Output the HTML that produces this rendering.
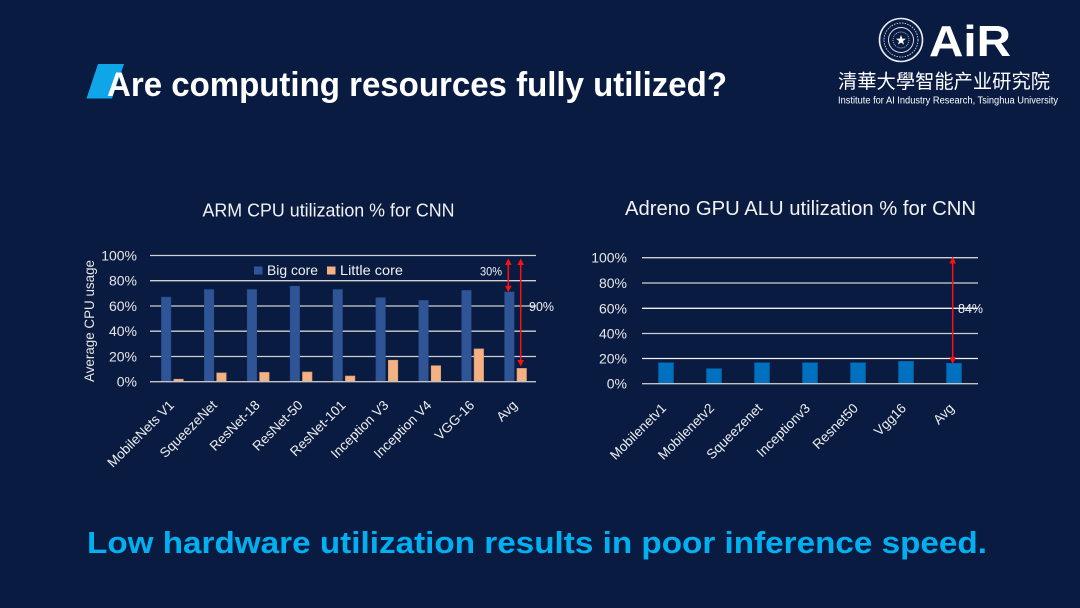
<!DOCTYPE html>
<html><head><meta charset="utf-8"><style>
html,body{margin:0;padding:0;background:#0a1b42;}
svg{display:block;}
text{font-family:"Liberation Sans","Noto Sans CJK SC",sans-serif;}
</style></head><body>
<svg width="1080" height="608" viewBox="0 0 1080 608" xmlns="http://www.w3.org/2000/svg">
<rect width="1080" height="608" fill="#0a1b42"/>
<!-- title -->
<polygon points="98,64 124,64 112,98.5 86.5,98.5" fill="#0ea5e9"/>
<text x="107" y="96" font-size="34" font-weight="bold" fill="#ffffff" textLength="620" lengthAdjust="spacingAndGlyphs">Are computing resources fully utilized?</text>

<!-- logo -->
<g fill="none" stroke="#e8ecf4">
<circle cx="901" cy="40" r="21.5" stroke-width="1.6"/>
<circle cx="901" cy="40" r="17" stroke-width="0.8" stroke-dasharray="1.5 1.2"/>
<circle cx="901" cy="40" r="12.5" stroke-width="0.9"/>
<circle cx="901" cy="40" r="8" stroke-width="0.7" stroke-dasharray="1 1"/>
</g>
<polygon points="901,35 902.3,38.6 906,38.7 903,41 904,44.6 901,42.5 898,44.6 899,41 896,38.7 899.7,38.6" fill="#ffffff"/>
<text x="929" y="56" font-size="44" font-weight="bold" fill="#ffffff" textLength="82" lengthAdjust="spacingAndGlyphs">AiR</text>
<text x="838" y="88" font-size="19.5" fill="#ffffff" font-family="Noto Sans CJK SC, sans-serif" textLength="212" lengthAdjust="spacingAndGlyphs">清華大學智能产业研究院</text>
<text x="838" y="103.5" font-size="10" fill="#ffffff" font-family="Liberation Serif, serif" textLength="220" lengthAdjust="spacingAndGlyphs">Institute for AI Industry Research, Tsinghua University</text>

<!-- LEFT CHART -->
<text x="202.5" y="216.5" font-size="18" fill="#f2f2f2" textLength="252" lengthAdjust="spacingAndGlyphs">ARM CPU utilization % for CNN</text>
<g stroke="#d0d0d0" stroke-width="1.3">
<line x1="150" y1="255.5" x2="536" y2="255.5"/>
<line x1="150" y1="280.7" x2="536" y2="280.7"/>
<line x1="150" y1="306" x2="536" y2="306"/>
<line x1="150" y1="331.2" x2="536" y2="331.2"/>
<line x1="150" y1="356.5" x2="536" y2="356.5"/>
</g>
<g font-size="14" fill="#e6e6e6" text-anchor="end">
<text x="137" y="260.5">100%</text>
<text x="137" y="285.7">80%</text>
<text x="137" y="311">60%</text>
<text x="137" y="336.2">40%</text>
<text x="137" y="361.5">20%</text>
<text x="137" y="386.7">0%</text>
</g>
<text transform="translate(94,321) rotate(-90)" font-size="14" fill="#e6e6e6" text-anchor="middle" textLength="122" lengthAdjust="spacingAndGlyphs">Average CPU usage</text>
<!-- big core bars -->
<g fill="#2f5597" stroke="#284a86" stroke-width="0.6">
<rect x="161.4" y="297.1" width="9.5" height="84.6"/>
<rect x="204.3" y="289.5" width="9.5" height="92.2"/>
<rect x="247.2" y="289.5" width="9.5" height="92.2"/>
<rect x="290.1" y="286.2" width="9.5" height="95.5"/>
<rect x="333.0" y="289.5" width="9.5" height="92.2"/>
<rect x="375.9" y="297.7" width="9.5" height="84.0"/>
<rect x="418.8" y="300.4" width="9.5" height="81.3"/>
<rect x="461.7" y="290.4" width="9.5" height="91.3"/>
<rect x="504.6" y="292.0" width="9.5" height="89.7"/>
</g>
<!-- little core bars -->
<g fill="#f4b183" stroke="#d89a6e" stroke-width="0.6">
<rect x="173.8" y="379.2" width="9.5" height="2.5"/>
<rect x="216.7" y="372.9" width="9.5" height="8.8"/>
<rect x="259.6" y="372.4" width="9.5" height="9.3"/>
<rect x="302.5" y="372.0" width="9.5" height="9.7"/>
<rect x="345.4" y="376.0" width="9.5" height="5.7"/>
<rect x="388.3" y="360.2" width="9.5" height="21.5"/>
<rect x="431.2" y="365.7" width="9.5" height="16.0"/>
<rect x="474.1" y="348.9" width="9.5" height="32.8"/>
<rect x="517.0" y="368.4" width="9.5" height="13.3"/>
</g>
<line x1="150" y1="381.7" x2="536" y2="381.7" stroke="#c4c4c4" stroke-width="1.4"/>
<!-- legend -->
<rect x="254" y="266.5" width="8.5" height="8" fill="#2f5597"/>
<text x="267" y="275" font-size="14" fill="#f2f2f2" textLength="51" lengthAdjust="spacingAndGlyphs">Big core</text>
<rect x="327" y="266.5" width="8.5" height="8" fill="#f4b183"/>
<text x="340" y="275" font-size="14" fill="#f2f2f2" textLength="63" lengthAdjust="spacingAndGlyphs">Little core</text>
<!-- arrows -->
<g stroke="#ff1010" stroke-width="1.5">
<line x1="508.3" y1="264" x2="508.3" y2="287"/>
<line x1="520.7" y1="264" x2="520.7" y2="361"/>
</g>
<g fill="#ff1010">
<polygon points="508.3,258.5 505,265 511.6,265"/>
<polygon points="508.3,292.2 505,285.7 511.6,285.7"/>
<polygon points="520.7,258.5 517.4,265 524,265"/>
<polygon points="520.7,366.5 517.4,360 524,360"/>
</g>
<text x="480" y="275.5" font-size="11.5" fill="#f2f2f2" textLength="22" lengthAdjust="spacingAndGlyphs">30%</text>
<text x="529" y="311" font-size="13" fill="#f2f2f2" textLength="25" lengthAdjust="spacingAndGlyphs">90%</text>
<!-- x labels left -->
<g font-size="13.5" fill="#eeeeee" text-anchor="end">
<text transform="translate(175,406) rotate(-45)">MobileNets V1</text>
<text transform="translate(217.8,406) rotate(-45)">SqueezeNet</text>
<text transform="translate(260.7,406) rotate(-45)">ResNet-18</text>
<text transform="translate(303.6,406) rotate(-45)">ResNet-50</text>
<text transform="translate(346.5,406) rotate(-45)">ResNet-101</text>
<text transform="translate(389.4,406) rotate(-45)">Inception V3</text>
<text transform="translate(432.3,406) rotate(-45)">Inception V4</text>
<text transform="translate(475.2,406) rotate(-45)">VGG-16</text>
<text transform="translate(518.1,406) rotate(-45)">Avg</text>
</g>

<!-- RIGHT CHART -->
<text x="625" y="215" font-size="20" fill="#f2f2f2" textLength="351" lengthAdjust="spacingAndGlyphs">Adreno GPU ALU utilization % for CNN</text>
<g stroke="#d0d0d0" stroke-width="1.3">
<line x1="642" y1="257.7" x2="978" y2="257.7"/>
<line x1="642" y1="283" x2="978" y2="283"/>
<line x1="642" y1="308.3" x2="978" y2="308.3" stroke="#f0f0f0"/>
<line x1="642" y1="333.5" x2="978" y2="333.5"/>
<line x1="642" y1="358.5" x2="978" y2="358.5" stroke="#f0f0f0"/>
</g>
<g font-size="14" fill="#e6e6e6" text-anchor="end">
<text x="627" y="262.7">100%</text>
<text x="627" y="288">80%</text>
<text x="627" y="313.3">60%</text>
<text x="627" y="338.5">40%</text>
<text x="627" y="363.5">20%</text>
<text x="627" y="388.7">0%</text>
</g>
<g fill="#0070c0" stroke="#0a5a9a" stroke-width="0.6">
<rect x="658.5" y="362.7" width="15" height="21"/>
<rect x="706.5" y="368.6" width="15" height="15.1"/>
<rect x="754.5" y="362.7" width="15" height="21"/>
<rect x="802.5" y="362.7" width="15" height="21"/>
<rect x="850.5" y="362.7" width="15" height="21"/>
<rect x="898.5" y="361.3" width="15" height="22.4"/>
<rect x="946.5" y="363.3" width="15" height="20.4"/>
</g>
<line x1="642" y1="383.7" x2="978" y2="383.7" stroke="#c4c4c4" stroke-width="1.4"/>
<line x1="952.7" y1="263" x2="952.7" y2="358" stroke="#ff1010" stroke-width="1.5"/>
<polygon points="952.7,256.5 949.4,263.5 956,263.5" fill="#ff1010"/>
<polygon points="952.7,364 949.4,357 956,357" fill="#ff1010"/>
<text x="958" y="313" font-size="13" fill="#f2f2f2" textLength="25" lengthAdjust="spacingAndGlyphs">84%</text>
<g font-size="13.5" fill="#eeeeee" text-anchor="end">
<text transform="translate(667,409) rotate(-45)">Mobilenetv1</text>
<text transform="translate(715,409) rotate(-45)">Mobilenetv2</text>
<text transform="translate(763,409) rotate(-45)">Squeezenet</text>
<text transform="translate(811,409) rotate(-45)">Inceptionv3</text>
<text transform="translate(859,409) rotate(-45)">Resnet50</text>
<text transform="translate(907,409) rotate(-45)">Vgg16</text>
<text transform="translate(955,409) rotate(-45)">Avg</text>
</g>

<!-- bottom text -->
<text x="87" y="553" font-size="31" font-weight="bold" fill="#00b0f0" textLength="900" lengthAdjust="spacingAndGlyphs">Low hardware utilization results in poor inference speed.</text>
</svg>
</body></html>
